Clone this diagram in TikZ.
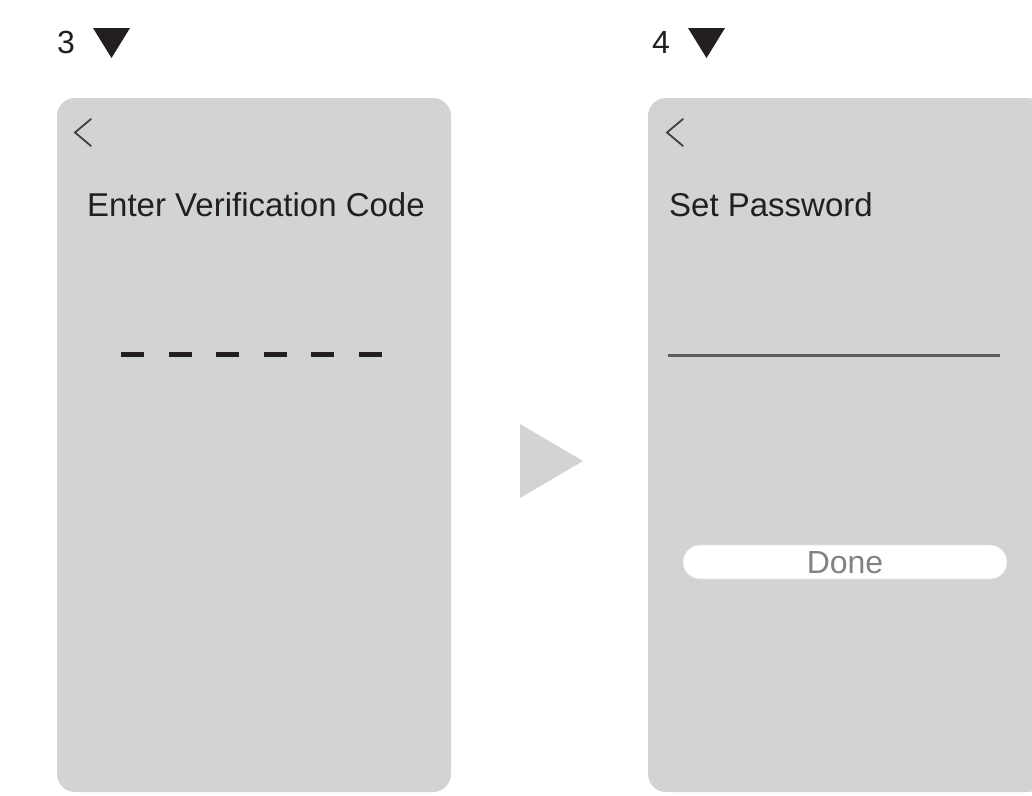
\documentclass[tikz,border=0pt]{standalone}
\usepackage{fontspec}
\setmainfont{Liberation Sans}
\begin{document}
\begin{tikzpicture}[x=1pt,y=-1pt,
  panel/.style={fill=panelgray, draw=none, rounded corners=18pt},
  chev/.style={draw=inkgray, line width=1.8pt, line cap=round, line join=miter},
  title/.style={inner sep=0pt, anchor=base west, text=ink, font=\fontsize{33}{40}\selectfont},
  steplabel/.style={inner sep=0pt, anchor=base west, text=ink, font=\fontsize{32}{38}\selectfont},
  marker/.style={fill=ink, draw=none},
  codedash/.style={fill=ink, draw=none},
]
\definecolor{panelgray}{RGB}{209,211,212}
\definecolor{ink}{RGB}{35,31,32}
\definecolor{inkgray}{RGB}{65,64,66}
\definecolor{linegray}{RGB}{92,92,94}
\definecolor{donegray}{RGB}{128,130,133}
\definecolor{btnedge}{RGB}{225,226,227}

\useasboundingbox (0,0) rectangle (1032,795);
\clip (0,0) rectangle (1032,795);

% step numbers with markers
\node[steplabel] (n3) at (57,53) {3};
\fill[marker] (93,28) -- (130,28) -- (111.5,58) -- cycle;
\node[steplabel] (n4) at (652,53) {4};
\fill[marker] (688,28) -- (725,28) -- (706.5,58) -- cycle;

% screen 3
\fill[panel] (57,98) rectangle (451,792);
\draw[chev] (91,119) -- (75,132.5) -- (91,146);
\node[title] (t3) at (87,216.5) {Enter Verification Code};
\foreach \i in {0,...,5}
  \fill[codedash] ({121+47.6*\i},352) rectangle ++(23,5);

% arrow between screens
\fill[panelgray] (520,424) -- (583,461) -- (520,498) -- cycle;

% screen 4
\fill[panel] (648,98) rectangle (1045,792);
\draw[chev] (683,119) -- (667,132.5) -- (683,146);
\node[title] (t4) at (669,216.5) {Set Password};
\draw[linegray, line width=2.6pt] (668,355.5) -- (1000,355.5);
\node[draw=btnedge, line width=0.6pt, fill=white, rounded corners=17pt,
      minimum width=324pt, minimum height=34pt, inner sep=0pt] (done) at (845,562) {};
\node[inner sep=0pt, anchor=base, text=donegray,
      font=\fontsize{32}{38}\selectfont] (donetxt) at (845,573.3) {Done};
\end{tikzpicture}
\end{document}
